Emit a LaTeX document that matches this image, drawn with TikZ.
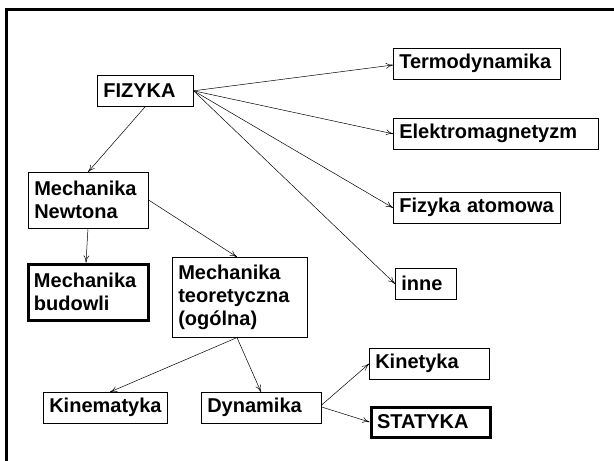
\documentclass[tikz,border=0pt]{standalone}
\usepackage{fontspec}
\setmainfont{Liberation Sans}
\usetikzlibrary{arrows.meta, positioning}

\begin{document}
\begin{tikzpicture}[
    x=1pt, y=-1pt,
    box/.style={rectangle, draw, line width=0.6pt, anchor=north west, inner xsep=6pt, inner ysep=0pt,
        minimum height=31pt, align=left, font=\fontsize{20}{23}\selectfont\bfseries},
    keybox/.style={box, line width=3pt},
    arrow/.style={-{To[length=2.5mm, width=2mm]}, line width=0.5pt}
]
    \useasboundingbox (0,0) rectangle (614,461);
    % Frame
    \draw[line width=3pt] (614,9.5) -- (6.2,9.5) -- (6.2,461);

    % Top level
    \node[box, text width=84pt] (fiz) at (97,75) {FIZYKA};
    \node[box, text width=155pt] (termo) at (393,48) {Termodynamika};
    \node[box, text width=193pt] (elektro) at (393,118) {Elektromagnetyzm};
    \node[box, text width=155pt] (atom) at (393,192) {Fizyka atomowa};
    \node[box, text width=49pt] (inne) at (395,268) {inne};

    % Mechanics
    \node[box, text width=108pt, minimum height=56pt] (newton) at (28,172) {Mechanika\\Newtona};
    \node[keybox, text width=108pt, minimum height=56pt] (budowli) at (26.5,262.5) {Mechanika\\budowli};
    \node[box, text width=123pt, minimum height=80pt] (teor) at (172,257) {Mechanika\\teoretyczna\\(og\'olna)};
    \node[box, text width=112pt] (kinem) at (43,392) {Kinematyka};
    \node[box, text width=108pt] (dyn) at (201,392) {Dynamika};
    \node[box, text width=108pt] (kinet) at (369,348) {Kinetyka};
    \node[keybox, text width=107pt, minimum height=30pt] (stat) at (369.5,405.5) {STATYKA};

    % Arrows
    \draw[arrow] (fiz.east) -- (termo.west |- 0,65);
    \draw[arrow] (fiz.east) -- (elektro.west);
    \draw[arrow] (fiz.east) -- (atom.west);
    \draw[arrow] (fiz.east) -- (inne.west);
    \draw[arrow] (fiz.south) -- (88,172);
    \draw[arrow] (88,228) -- (budowli.north -| 86,0);
    \draw[arrow] (newton.east |- 0,200) -- (teor.north -| 237,0);
    \draw[arrow] (teor.south -| 237,0) -- (kinem.north -| 110,0);
    \draw[arrow] (teor.south -| 237,0) -- (dyn.north -| 261,0);
    \draw[arrow] (dyn.east |- 0,405) -- (kinet.west);
    \draw[arrow] (dyn.east |- 0,407) -- (stat.west);

\end{tikzpicture}
\end{document}
